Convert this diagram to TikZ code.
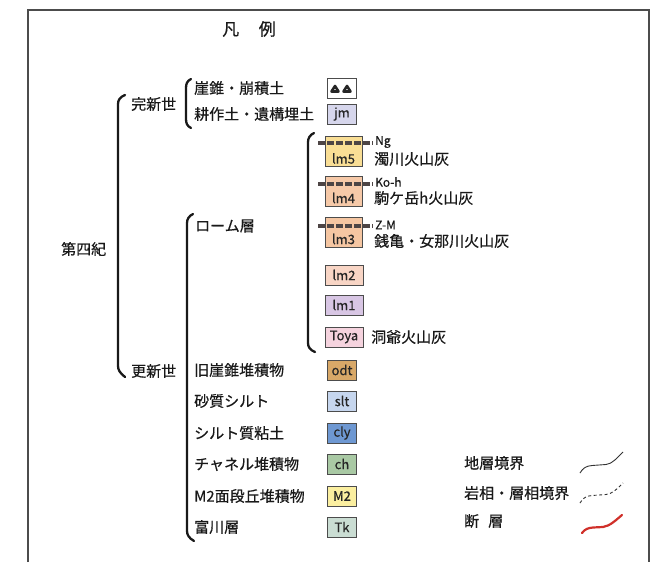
\documentclass[tikz,border=0pt]{standalone}
\usepackage{fontspec}
\setmainfont{Noto Sans CJK JP}[FakeBold=0.5]
\definecolor{cjm}{HTML}{D6D6EC}
\definecolor{clmv}{HTML}{F9DE95}
\definecolor{clmiv}{HTML}{F6C9A8}
\definecolor{clmiii}{HTML}{F5C6A2}
\definecolor{clmii}{HTML}{F8D5C5}
\definecolor{clmi}{HTML}{D8C6E4}
\definecolor{ctoya}{HTML}{F5D3DE}
\definecolor{codt}{HTML}{D8A868}
\definecolor{cslt}{HTML}{C6D6EE}
\definecolor{ccly}{HTML}{6E98D2}
\definecolor{cch}{HTML}{A9C9A4}
\definecolor{cmii}{HTML}{FBEFA0}
\definecolor{ctk}{HTML}{CADDD3}
\definecolor{ashgray}{HTML}{4D4545}
\definecolor{faultred}{HTML}{D0302A}
\begin{document}
\begin{tikzpicture}[x=1pt,y=-1pt,
  txt/.style={anchor=west,inner sep=0pt,font=\fontsize{15}{18}\selectfont,text=black!90},
  smalltxt/.style={anchor=west,inner sep=0pt,font=\fontsize{12}{13}\selectfont,text=black!90},
  legbox/.style={draw=black!70,line width=0.9pt,minimum width=29pt,minimum height=20pt,inner sep=0pt,font=\fontsize{13}{14}\selectfont,text=black!85},
  lmbox/.style={legbox,minimum width=37pt,minimum height=30pt},
  boxlabel/.style={inner sep=0pt,font=\fontsize{13}{14}\selectfont,text=black!85},
  brace/.style={line width=2.3pt,draw=black!90,line cap=round,line join=round},
  ashline/.style={draw=ashgray,line width=4pt,dash pattern=on 6.5pt off 2.5pt},
  bound/.style={draw=black!80,line width=0.9pt},
  tri/.style={line width=2.6pt,draw=black!85,fill=white,line join=round},
]
\useasboundingbox (0,0) rectangle (661,562);
% frame
\draw[draw=black!70,line width=1.5pt] (28,562) -- (28,10) -- (649,10) -- (649,562);
% title
\node[inner sep=0pt,font=\fontsize{17}{20}\selectfont,text=black!90] (title) at (249,29) {凡\hspace{1.15em}例};

% braces
\draw[brace] (125,95) .. controls (120,97) and (118,100) .. (118,104) -- (118,366) .. controls (118,370) and (120,373) .. (125,377);
\draw[brace] (191,79) .. controls (187,81) and (186,84) .. (186,88) -- (186,119) .. controls (186,123) and (187,126) .. (191,128);
\draw[brace] (193,214) .. controls (189,216) and (187,219) .. (187,223) -- (187,531) .. controls (187,535) and (189,538) .. (194,541);
\draw[brace] (314,133) .. controls (310,135) and (308,138) .. (308,142) -- (308,343) .. controls (308,347) and (310,350) .. (315,352);

% left labels
\node[txt] (daiyonki) at (61,249) {第四紀};
\node[txt] (kanshin) at (131,104) {完新世};
\node[txt] (koshin) at (131,371) {更新世};

% Holocene
\node[txt] (gaisui) at (194,88) {崖錐・崩積土};
\node[txt] (kosaku) at (194,114) {耕作土・遺構埋土};
\node[legbox,fill=white] (bdt) at (342,88) {};
\draw[tri] (331.5,91.5) -- (335,86) -- (338.5,91.5) -- cycle;
\draw[tri] (343.5,91.5) -- (347,86) -- (350.5,91.5) -- cycle;
\node[legbox,fill=cjm] (bjm) at (342,114) {jm};

% loam
\node[txt] (loam) at (195,226) {ローム層};
\node[lmbox,fill=clmv] (blm5) at (343.5,151) {};
\node[boxlabel] (tlm5) at (343.5,158.5) {lm5};
\node[lmbox,fill=clmiv] (blm4) at (343.5,191) {};
\node[boxlabel] (tlm4) at (343.5,198) {lm4};
\node[lmbox,fill=clmiii] (blm3) at (343.5,232) {};
\node[boxlabel] (tlm3) at (343.5,239) {lm3};
\node[legbox,fill=clmii,minimum width=38pt] (blm2) at (344,275) {lm2};
\node[legbox,fill=clmi,minimum width=38pt] (blm1) at (344,305) {lm1};
\node[legbox,fill=ctoya,minimum width=38pt] (btoya) at (344,337) {Toya};

% tephra marker lines
\coordinate (ngA) at (318,143);
\coordinate (ngB) at (373,143);
\coordinate (kohA) at (318,184);
\coordinate (kohB) at (373,184);
\coordinate (zmA) at (318,226);
\coordinate (zmB) at (373,226);
\draw[ashline] (ngA) -- (ngB);
\draw[ashline] (kohA) -- (kohB);
\draw[ashline] (zmA) -- (zmB);

\node[smalltxt] (ng) at (375,142) {Ng};
\node[txt] (nigori) at (374,159) {濁川火山灰};
\node[smalltxt] (koh) at (375,182) {Ko-h};
\node[txt] (komaga) at (374,198) {駒ケ岳h火山灰};
\node[smalltxt] (zm) at (375,225) {Z-M};
\node[txt] (zenikame) at (374,241) {銭亀・女那川火山灰};
\node[txt] (toya) at (371,337) {洞爺火山灰};

% Pleistocene units
\node[txt] (odt) at (194,370) {旧崖錐堆積物};
\node[txt] (slt) at (194,401) {砂質シルト};
\node[txt] (cly) at (194,433) {シルト質粘土};
\node[txt] (ch) at (194,464) {チャネル堆積物};
\node[txt] (mii) at (194,496) {M2面段丘堆積物};
\node[txt] (tk) at (194,527) {富川層};
\node[legbox,fill=codt] (bodt) at (342,370) {odt};
\node[legbox,fill=cslt] (bslt) at (342,401) {slt};
\node[legbox,fill=ccly] (bcly) at (342,433) {cly};
\node[legbox,fill=cch] (bch) at (342,464) {ch};
\node[legbox,fill=cmii] (bmii) at (342,496) {M2};
\node[legbox,fill=ctk] (btk) at (342,527) {Tk};

% boundary legend
\node[txt] (chiso) at (464,463) {地層境界};
\node[txt] (ganso) at (464,493) {岩相・層相境界};
\node[txt] (danso) at (464,521) {断\hspace{0.6em}層};
\draw[bound] (580,473) .. controls (583,468) and (586,466) .. (592,465.5) -- (606,464.5) .. controls (612,464) and (617,458) .. (623,452);
\draw[bound,dash pattern=on 3pt off 2.5pt] (580,503) .. controls (583,498) and (586,496) .. (592,495.5) -- (606,494.5) .. controls (612,494) and (617,489) .. (623,483);
\draw[draw=faultred,line width=2.2pt,line cap=round] (582,533) .. controls (585,529) and (588,528) .. (593,527.5) -- (603,527) .. controls (610,526) and (616,520) .. (622,515);
\end{tikzpicture}
\end{document}
